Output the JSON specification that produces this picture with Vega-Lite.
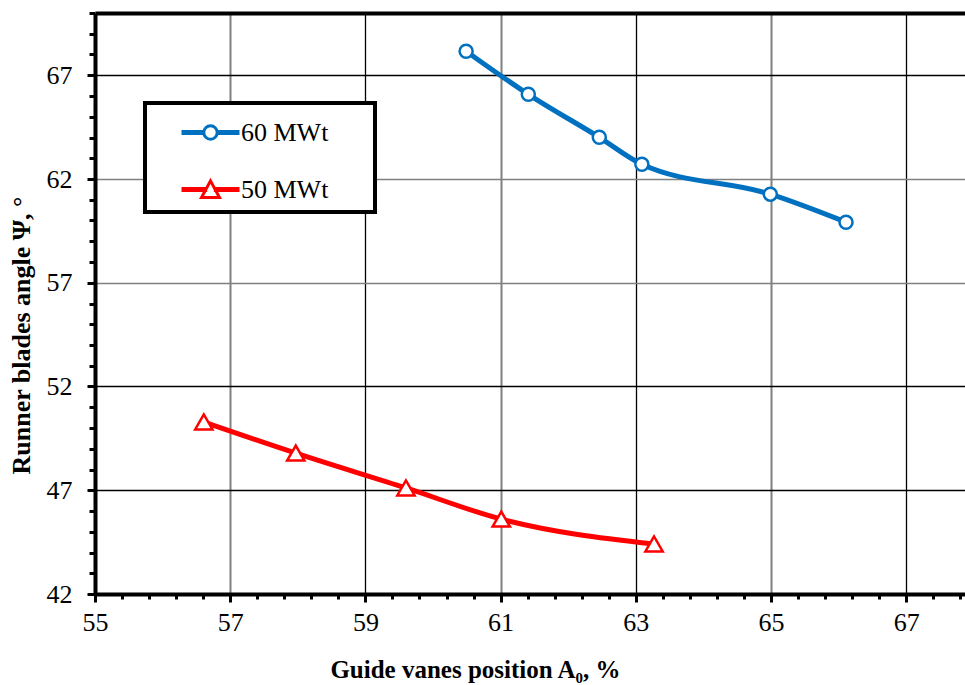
{
  "$schema": "https://vega.github.io/schema/vega-lite/v6.json",
  "width": 870,
  "height": 581,
  "autosize": {"type": "none"},
  "padding": {"left": 95, "top": 13, "right": 0, "bottom": 91},
  "background": "white",
  "config": {
    "view": {"stroke": null},
    "axis": {
      "labelFont": "Liberation Serif",
      "labelFontSize": 26,
      "labelColor": "black",
      "titleFont": "Liberation Serif",
      "titleFontSize": 25,
      "titleFontWeight": "bold",
      "titleColor": "black",
      "domainColor": "black",
      "domainWidth": 4,
      "tickColor": "black",
      "tickWidth": 3,
      "labelOverlap": false,
      "labelFlush": false,
      "labelBound": false
    }
  },
  "data": {
    "values": [
      {"series": "60 MWt", "x": 60.49, "y": 68.16},
      {"series": "60 MWt", "x": 61.41, "y": 66.08},
      {"series": "60 MWt", "x": 62.46, "y": 64.01},
      {"series": "60 MWt", "x": 63.09, "y": 62.71},
      {"series": "60 MWt", "x": 64.99, "y": 61.27},
      {"series": "60 MWt", "x": 66.11, "y": 59.92},
      {"series": "50 MWt", "x": 56.61, "y": 50.29},
      {"series": "50 MWt", "x": 57.97, "y": 48.79},
      {"series": "50 MWt", "x": 59.6, "y": 47.11},
      {"series": "50 MWt", "x": 61.01, "y": 45.61},
      {"series": "50 MWt", "x": 63.27, "y": 44.41}
    ]
  },
  "encoding": {
    "x": {
      "field": "x",
      "type": "quantitative",
      "scale": {"domain": [55, 67.87], "nice": false, "zero": false},
      "axis": {
        "title": "Guide vanes position A₀, %",
        "titleX": 380,
        "titleY": 83,
        "titleBaseline": "alphabetic",
        "titleAnchor": null,
        "values": [55, 55.4, 55.8, 56.2, 56.6, 57, 57.4, 57.8, 58.2, 58.6, 59, 59.4, 59.8, 60.2, 60.6, 61, 61.4, 61.8, 62.2, 62.6, 63, 63.4, 63.8, 64.2, 64.6, 65, 65.4, 65.8, 66.2, 66.6, 67, 67.4, 67.8],
        "labelExpr": "abs(datum.value-round(datum.value))<0.01 && round(datum.value)%2==1 ? format(round(datum.value),'d') : ''",
        "labelPadding": 7,
        "tickSize": {"condition": {"test": "abs(datum.value-round(datum.value))<0.01 && round(datum.value)%2==1", "value": 8}, "value": 5},
        "grid": true,
        "gridOpacity": {"condition": {"test": "abs(datum.value-round(datum.value))<0.01 && round(datum.value)%2==1 && datum.value>55.5", "value": 1}, "value": 0},
        "gridColor": {"condition": {"test": "round(datum.value)%4==1", "value": "#808080"}, "value": "black"},
        "gridWidth": {"condition": {"test": "round(datum.value)%4==1", "value": 2}, "value": 1.3}
      }
    },
    "y": {
      "field": "y",
      "type": "quantitative",
      "scale": {"domain": [42, 70], "nice": false, "zero": false},
      "axis": {
        "title": "Runner blades angle Ψ, °",
        "titleFontSize": 26,
        "titleX": -66,
        "titleY": 322,
        "titleAngle": -90,
        "titleAlign": "center",
        "titleBaseline": "alphabetic",
        "titleAnchor": null,
        "values": [42, 43, 44, 45, 46, 47, 48, 49, 50, 51, 52, 53, 54, 55, 56, 57, 58, 59, 60, 61, 62, 63, 64, 65, 66, 67, 68, 69, 70],
        "labelExpr": "(datum.value-42)%5==0 ? format(datum.value,'d') : ''",
        "labelPadding": 15,
        "tickSize": {"condition": {"test": "(datum.value-42)%5==0", "value": 8}, "value": 6},
        "grid": true,
        "gridOpacity": {"condition": {"test": "((datum.value-42)%5==0 && datum.value>42) || datum.value==70", "value": 1}, "value": 0},
        "gridColor": {"condition": {"test": "datum.value==57 || datum.value==62", "value": "#808080"}, "value": "black"},
        "gridWidth": {"condition": {"test": "datum.value==70", "value": 4}, "value": 1.5}
      }
    }
  },
  "layer": [
    {
      "mark": {"type": "line", "interpolate": "monotone", "strokeWidth": 5},
      "encoding": {
        "color": {
          "field": "series",
          "type": "nominal",
          "scale": {"domain": ["60 MWt", "50 MWt"], "range": ["#0070C0", "#FF0000"]},
          "legend": {
            "title": null,
            "orient": "none",
            "legendX": 50,
            "legendY": 90,
            "strokeColor": "black",
            "fillColor": "white",
            "padding": 8,
            "rowPadding": 22,
            "symbolSize": 1600,
            "symbolStrokeWidth": 3,
            "symbolFillColor": "white",
            "symbolOffset": 36,
            "labelOffset": 9,
            "labelFont": "Liberation Serif",
            "labelFontSize": 26,
            "labelColor": "black",
            "labelExpr": "datum.label + '\u2800\u2800'",
            "encode": {
              "legend": {
                "update": {"strokeWidth": {"value": 4}}
              },
              "symbols": {
                "update": {
                  "fill": {"value": "white"},
                  "shape": {"signal": "datum.value === '60 MWt' ? 'M-1.375,-0.055H-0.335V0.055H-1.375Z M0.335,-0.055H1.375V0.055H0.335Z M0.335,0A0.335,0.335,0,1,1,-0.335,0A0.335,0.335,0,1,1,0.335,0Z' : 'M-1.375,-0.055H-0.24V0.055H-1.375Z M0.24,-0.055H1.375V0.055H0.24Z M0,-0.43L0.45,0.4L-0.45,0.4Z'"}
                }
              }
            }
          }
        }
      }
    },
    {
      "transform": [{"filter": "datum.series === '60 MWt'"}],
      "mark": {"type": "point", "shape": "circle", "filled": false, "fill": "white", "stroke": "#0070C0", "opacity": 1, "strokeWidth": 2.5, "size": 170}
    },
    {
      "transform": [{"filter": "datum.series === '50 MWt'"}],
      "mark": {"type": "point", "shape": "triangle-up", "filled": false, "fill": "white", "stroke": "#FF0000", "opacity": 1, "strokeWidth": 2.5, "size": 300}
    }
  ]
}
